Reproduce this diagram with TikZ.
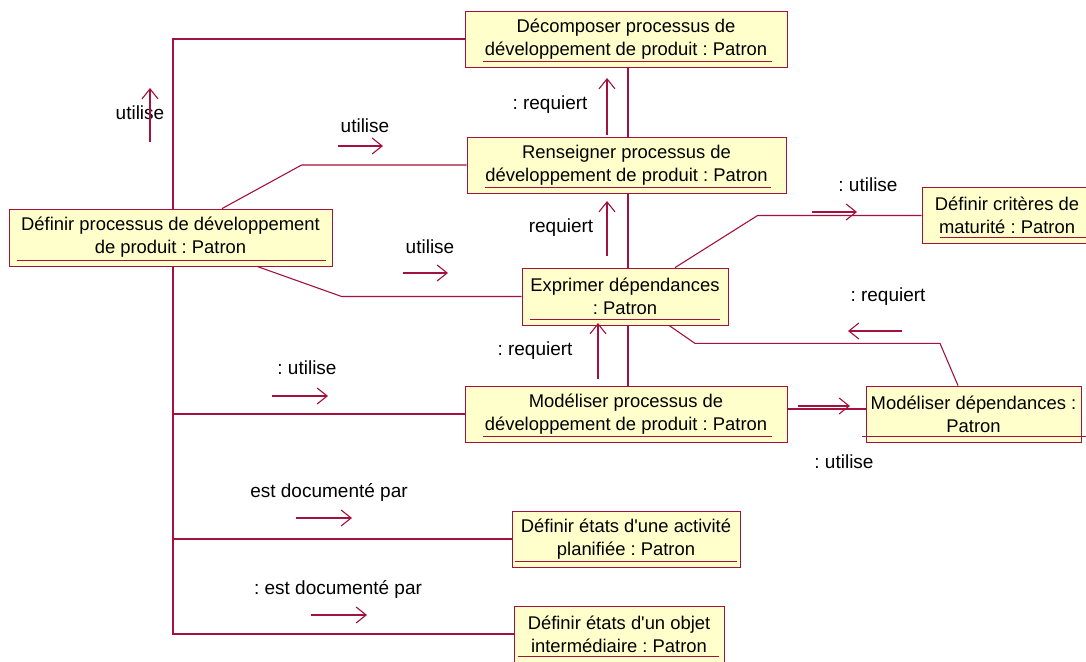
\documentclass[tikz,border=0pt]{standalone}
\usepackage{fontspec}
\setmainfont{Liberation Sans}
\usetikzlibrary{positioning, arrows.meta, calc}
\definecolor{patred}{HTML}{A3123E}
\definecolor{patfill}{HTML}{FFFFCC}
\frenchspacing

\begin{document}
\begin{tikzpicture}[x=0.5pt, y=-0.5pt,
    every node/.style={font=\fontsize{9.2}{11.5}\selectfont},
    patron/.style={draw=patred, fill=patfill, align=center, inner sep=0pt, minimum height=28pt},
    lien/.style={patred, line width=0.55pt},
    sens/.style={patred, line width=0.55pt, -{Straight Barb[length=5pt, width=8pt]}},
    lbl/.style={inner sep=0pt, font=\fontsize{9.5}{11.5}\selectfont},
]
\useasboundingbox (0,0) rectangle (1086,662);

% Patrons
\node[patron, minimum width=161pt] (dec) at (626,39) {Décomposer processus de\\développement de produit : Patron};
\node[patron, minimum width=159.5pt] (ren) at (626.5,165) {Renseigner processus de\\développement de produit : Patron};
\node[patron, minimum width=161.5pt, minimum height=28.5pt] (main) at (170.5,237.5) {Définir processus de développement\\de produit : Patron};
\node[patron, minimum width=103pt, minimum height=28.5pt] (exp) at (625,296.5) {Exprimer dépendances\\: Patron};
\node[patron, minimum width=85pt] (crit) at (1007,215.5) {Définir critères de\\maturité : Patron};
\node[patron, minimum width=161pt] (modp) at (626,414) {Modéliser processus de\\développement de produit : Patron};
\node[patron, minimum width=107.5pt] (modd) at (973.5,414) {Modéliser dépendances :\\Patron};
\node[patron, minimum width=114pt] (act) at (626,539) {Définir états d\textquotesingle une activité\\planifiée : Patron};
\node[patron, minimum width=105pt] (obj) at (619,634) {Définir états d\textquotesingle un objet\\intermédiaire : Patron};

% Soulignements
\foreach \n/\a/\b in {dec/18/-15, ren/18/-15, main/8/-6, exp/8/-8, crit/18/-3, modp/18/-15, modd/-4/5, act/3/-3, obj/4/-5}
  \draw[lien] ($(\n.south west)+(\a,-6)$) -- ($(\n.south east)+(\b,-6)$);

% Liens
\draw[lien] ([xshift=1.25pt]main.north) |- (dec.west);
\draw[lien] ([xshift=25.75pt]main.north) -- ($(ren.west)+(-165,0)$) -- (ren.west);
\draw[lien] ([xshift=43.25pt]main.south) -- ($(exp.west)+(-180,0)$) -- (exp.west);
\draw[lien] ([xshift=1pt]dec.south) -- ([xshift=1pt]dec.south |- ren.north);
\draw[lien] ([xshift=0.75pt]ren.south) -- ([xshift=0.75pt]ren.south |- exp.north);
\draw[lien] ([xshift=1.5pt]exp.south) -- ([xshift=1.5pt]exp.south |- modp.north);
\draw[lien] ([xshift=25pt]exp.north) -- ($(crit.west)+(-164,0)$) -- (crit.west);
\draw[lien] ([xshift=22pt]exp.south) -- ++(26,18) -- ++(245,0) -- ([xshift=-7.75pt]modd.north);
\draw[lien] ([yshift=2.5pt]modp.east) -- ([yshift=2.5pt]modp.east -| modd.west);
\draw[lien] ([xshift=1.25pt]main.south) |- (obj.west);
\draw[lien] ([xshift=1.25pt]main.south |- modp.west) -- (modp.west);
\draw[lien] ([xshift=1.25pt]main.south |- act.west) -- (act.west);

% Messages
\node[lbl] (m1) at (140,113) {utilise};
\draw[sens] ($(m1)+(10,29)$) -- ++(0,-54);
\node[lbl] (m2) at (365,126) {utilise};
\draw[sens] ($(m2)+(-27,20)$) -- ++(45,0);
\node[lbl] (m3) at (430,247) {utilise};
\draw[sens] ($(m3)+(-27,26)$) -- ++(45,0);
\node[lbl] (m4) at (550,105) {: requiert};
\draw[sens] ($(m4)+(57,30)$) -- ++(0,-57);
\node[lbl] (m5) at (561,228) {requiert};
\draw[sens] ($(m5)+(46,28)$) -- ++(0,-55);
\node[lbl] (m6) at (868,185) {: utilise};
\draw[sens] ($(m6)+(-56,27)$) -- ++(45,0);
\node[lbl] (m7) at (888,297) {: requiert};
\draw[sens] ($(m7)+(14,34)$) -- ++(-54,0);
\node[lbl] (m8) at (535,351) {: requiert};
\draw[sens] ($(m8)+(63,28)$) -- ++(0,-56);
\node[lbl] (m9) at (307,368) {: utilise};
\draw[sens] ($(m9)+(-35,28)$) -- ++(56,0);
\node[lbl] (m10) at (844,462) {: utilise};
\draw[sens] ($(m10)+(-46,-56)$) -- ++(52,0);
\node[lbl] (m11) at (329,492) {est documenté par};
\draw[sens] ($(m11)+(-33,26)$) -- ++(56,0);
\node[lbl] (m12) at (338,589) {: est documenté par};
\draw[sens] ($(m12)+(-27,26)$) -- ++(56,0);

\end{tikzpicture}
\end{document}
